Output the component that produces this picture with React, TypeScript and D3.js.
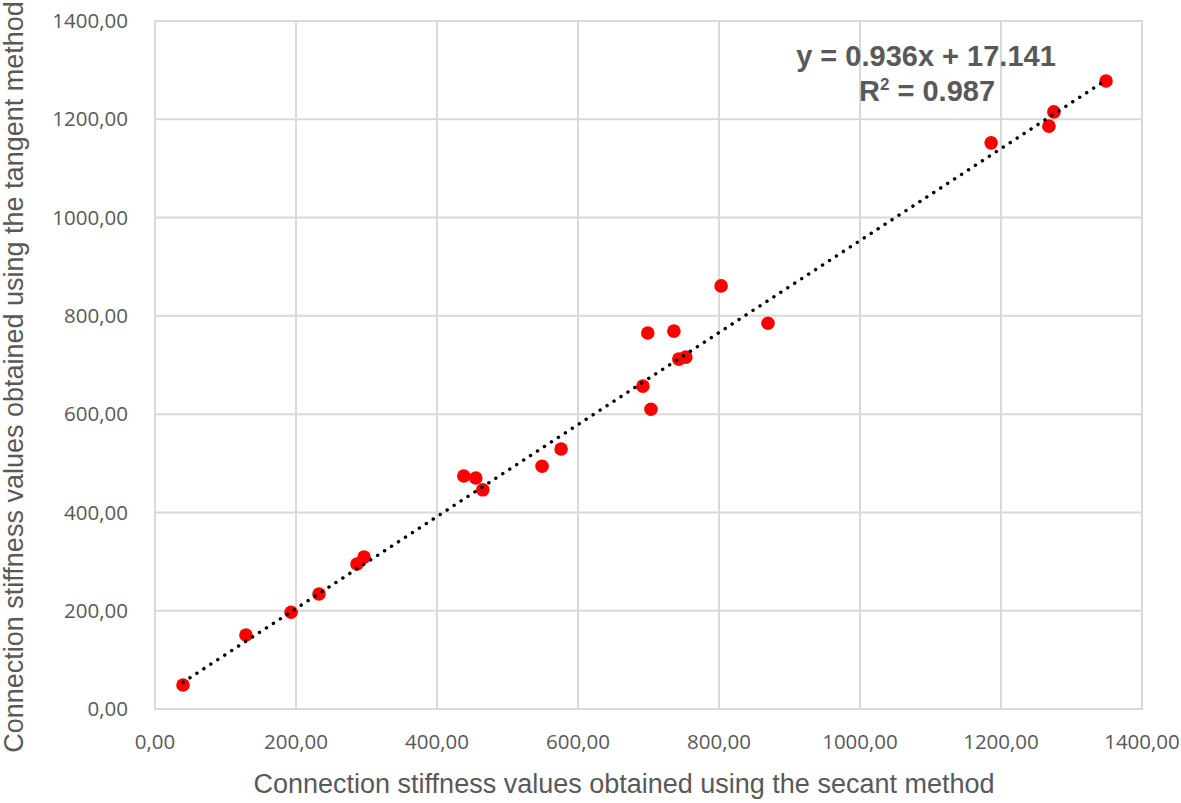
import React from "react";
import * as d3 from "d3";

const secant = [39.7, 129, 193, 232.6, 286.5, 296.5, 438, 455, 465, 549, 576, 692, 703.5, 699, 736, 743, 753, 803, 869.5, 1186, 1268, 1275, 1349];
const tangent = [48.8, 150.6, 197, 234, 295, 309, 474, 470, 446, 494, 529, 657, 610, 765, 769, 712, 716, 861, 785, 1152, 1186, 1215, 1278];
const xTicks = [0, 200, 400, 600, 800, 1000, 1200, 1400];
const yTicks = [0, 200, 400, 600, 800, 1000, 1200, 1400];
const slope = 0.936;
const intercept = 17.141;
const eqText = "y = 0.936x + 17.141";
const r2Value = "0.987";
const xTitle = "Connection stiffness values obtained using the secant method";
const yTitle = "Connection stiffness values obtained using the tangent method";

const W = 1181, H = 803;
const L = 155, R = 1142, T = 21, B = 709;

export default function App() {
  const x = d3.scaleLinear().domain([0, 1400]).range([L, R]);
  const y = d3.scaleLinear().domain([0, 1400]).range([B, T]);
  const fmt = (v: number) => v.toFixed(2).replace(".", ",");
  const x0 = d3.min(secant)!, x1 = d3.max(secant)!;
  const line = d3.line<number>().x(d => x(d)).y(d => y(slope * d + intercept));
  const grid = "#d9d9d9";
  const txt = "#595959";
  return (
    <svg width={W} height={H} style={{ position: "absolute", left: 0, top: 0 }}>
      <rect width={W} height={H} fill="#fff" />
      {xTicks.map(t => (
        <line key={"gx" + t} x1={x(t)} x2={x(t)} y1={T} y2={B} stroke={grid} strokeWidth={2} />
      ))}
      {yTicks.map(t => (
        <line key={"gy" + t} x1={L} x2={R} y1={y(t)} y2={y(t)} stroke={grid} strokeWidth={2} />
      ))}
      <rect x={L} y={T} width={R - L} height={B - T} fill="none" stroke={grid} strokeWidth={2} />
      {yTicks.map(t => (
        <text key={"ty" + t} x={128} y={y(t)} dy="0.35em" textAnchor="end" fontFamily="'Open Sans', sans-serif" fontSize={20.5} fill={txt}>{fmt(t)}</text>
      ))}
      {xTicks.map(t => (
        <text key={"tx" + t} x={x(t)} y={742} dy="0.35em" textAnchor="middle" fontFamily="'Open Sans', sans-serif" fontSize={20.5} fill={txt}>{fmt(t)}</text>
      ))}
      {secant.map((s, i) => (
        <circle key={"p" + i} cx={x(s)} cy={y(tangent[i])} r={6.8} fill="#ff0000" />
      ))}
      <path d={line([x0, x1]) || ""} fill="none" stroke="#000" strokeWidth={3.4} strokeLinecap="round" strokeDasharray="0.1 8.2" />
      <text x={926} y={66} textAnchor="middle" fontFamily="'Liberation Sans', Arial, sans-serif" fontWeight="bold" fontSize={29} fill={txt}>{eqText}</text>
      <text x={927} y={101} textAnchor="middle" fontFamily="'Liberation Sans', Arial, sans-serif" fontWeight="bold" fontSize={29} fill={txt}>
        R<tspan dy={-11} fontSize={17}>2</tspan><tspan dy={11}> = {r2Value}</tspan>
      </text>
      <text x={624} y={793} textAnchor="middle" fontFamily="'Liberation Sans', Arial, sans-serif" fontSize={27} fill={txt}>{xTitle}</text>
      <text transform={`translate(23,377) rotate(-90)`} textAnchor="middle" fontFamily="'Liberation Sans', Arial, sans-serif" fontSize={27} fill={txt}>{yTitle}</text>
    </svg>
  );
}
